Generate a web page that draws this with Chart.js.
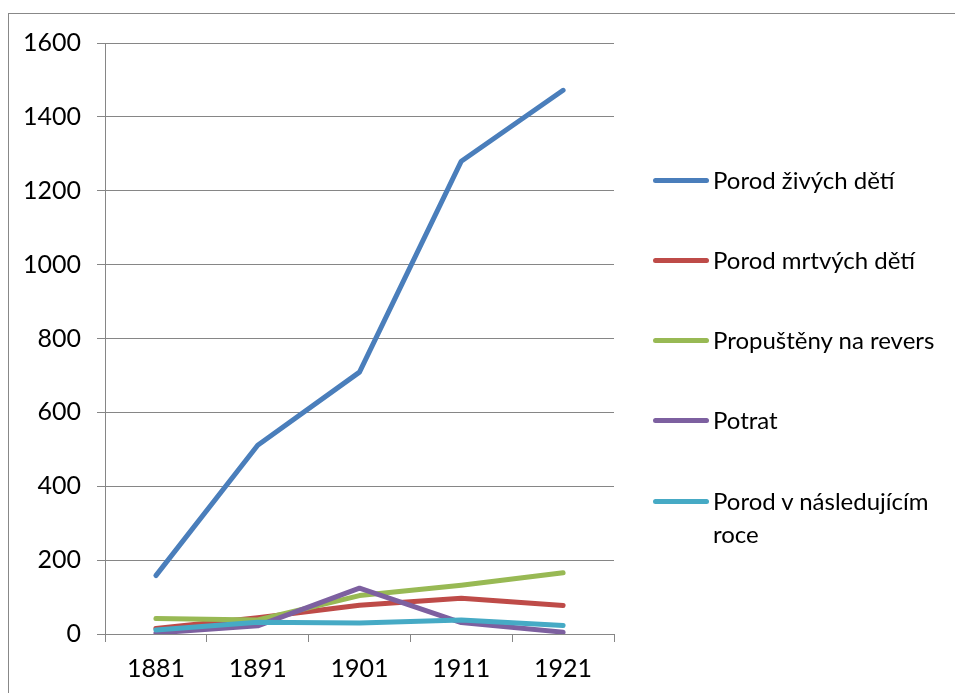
<!DOCTYPE html>
<html>
<head>
<meta charset="utf-8">
<script src="https://cdn.jsdelivr.net/npm/chart.js@4.4.1/dist/chart.umd.min.js"></script>
<style>
  html, body { margin: 0; padding: 0; background: #fff; }
  #wrap { position: relative; width: 955px; height: 693px; overflow: hidden; }
  #frame { position: absolute; left: 8px; top: 13px; width: 1000px; height: 800px;
           border-left: 1px solid #888; border-top: 1px solid #888; }
  canvas { position: absolute; left: 0; top: 0; }
  #legend { position: absolute; left: 653px; top: 0; font-family: Lato, "Open Sans", sans-serif;
            font-size: 24px; color: #000; }
  .item { position: absolute; left: 0; width: 300px; }
  .sw { position: absolute; left: 0; width: 56px; height: 5px; border-radius: 3px; }
  .lbl { position: absolute; left: 60px; width: 235px; line-height: 33px; }
</style>
</head>
<body>
<div id="wrap">
  <div id="frame"></div>
  <canvas id="c" width="955" height="693"></canvas>
  <div id="legend"></div>
</div>
<script>
const categories = ["1881", "1891", "1901", "1911", "1921"];
const seriesNames = ["Porod živých dětí", "Porod mrtvých dětí", "Propuštěny na revers", "Potrat", "Porod v následujícím roce"];
const porodZivych = [158, 511, 709, 1280, 1472];
const porodMrtvych = [15, 44, 78, 97, 77];
const propusteny = [42, 38, 104, 132, 166];
const potrat = [3, 22, 124, 31, 5];
const porodNasledujici = [11, 32, 30, 38, 23];
const yTicks = [0, 200, 400, 600, 800, 1000, 1200, 1400, 1600];

const colors = ["#4A7EBB", "#BE4B48", "#98B954", "#7D60A0", "#46AAC5"];
const values = [porodZivych, porodMrtvych, propusteny, potrat, porodNasledujici];

const datasets = values.map((v, i) => ({
  label: seriesNames[i],
  data: v,
  borderColor: colors[i],
  backgroundColor: colors[i],
  borderWidth: 5,
  borderCapStyle: 'round',
  borderJoinStyle: 'round',
  pointRadius: 0,
  pointHoverRadius: 0,
  tension: 0,
  fill: false,
  order: values.length - 1 - i
}));

const gridColor = "#868686";
const tickFont = { family: "Lato, 'Open Sans', sans-serif", size: 25 };

new Chart(document.getElementById('c'), {
  type: 'line',
  data: { labels: categories, datasets },
  options: {
    responsive: false,
    animation: false,
    devicePixelRatio: 1,
    layout: { padding: { top: 43, right: 341, bottom: 0, left: 0 } },
    plugins: { legend: { display: false }, tooltip: { enabled: false } },
    scales: {
      x: {
        offset: true,
        grid: { display: true, offset: true, drawOnChartArea: false, drawTicks: true,
                tickLength: 8, color: gridColor, lineWidth: 1 },
        border: { display: true, color: gridColor, width: 1 },
        ticks: { color: "#000", font: tickFont, padding: 12, maxRotation: 0 },
        afterFit: s => { s.height = 59; }
      },
      y: {
        min: 0, max: 1600,
        afterBuildTicks: s => { s.ticks = yTicks.map(v => ({ value: v })); },
        grid: { display: true, drawTicks: true, tickLength: 8, color: gridColor, lineWidth: 1 },
        border: { display: true, color: gridColor, width: 1 },
        ticks: { color: "#000", font: tickFont, padding: 16, callback: v => String(v) },
        afterFit: s => { s.width = 105; }
      }
    }
  }
});

// Legend
const legendTops = [180, 260, 340, 420, 501];
const lg = document.getElementById('legend');
seriesNames.forEach((name, i) => {
  const it = document.createElement('div');
  it.className = 'item';
  it.style.top = legendTops[i] + 'px';
  const sw = document.createElement('div');
  sw.className = 'sw';
  sw.style.background = colors[i];
  sw.style.top = '-2px';
  const lb = document.createElement('div');
  lb.className = 'lbl';
  lb.style.top = '-17px';
  lb.textContent = name;
  it.appendChild(sw);
  it.appendChild(lb);
  lg.appendChild(it);
});
</script>
</body>
</html>
